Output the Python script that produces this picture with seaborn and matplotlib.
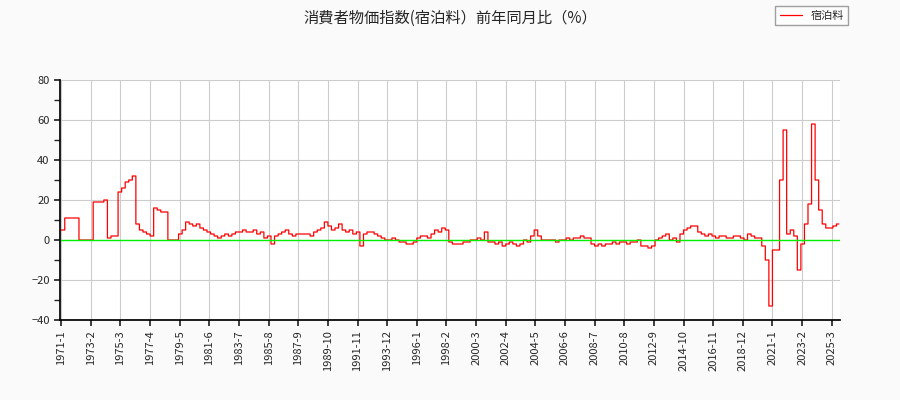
import numpy as np
import pandas as pd
import matplotlib
matplotlib.use("Agg")
import matplotlib.pyplot as plt
import seaborn as sns

# quarterly estimates (each held for 3 months), 1971 Q1 .. 2025 Q3
q1971 = [5, 11, 11, 11]
q1972 = [11, 0, 0, 0]
q1973 = [0, 19, 19, 19]
q1974 = [20, 1, 2, 2]
q1975 = [24, 26, 29, 30]
q1976 = [32, 8, 5, 4]
q1977 = [3, 2, 16, 15]
q1978 = [14, 14, 0, 0]
q1979 = [0, 3, 5, 9]
q1980 = [8, 7, 8, 6]
q1981 = [5, 4, 3, 2]
q1982 = [1, 2, 3, 2]
q1983 = [3, 4, 4, 5]
q1984 = [4, 4, 5, 3]
q1985 = [4, 1, 2, -2]
q1986 = [2, 3, 4, 5]
q1987 = [3, 2, 3, 3]
q1988 = [3, 3, 2, 4]
q1989 = [5, 6, 9, 7]
q1990 = [5, 6, 8, 5]
q1991 = [4, 5, 3, 4]
q1992 = [-3, 3, 4, 4]
q1993 = [3, 2, 1, 0]
q1994 = [0, 1, 0, -1]
q1995 = [-1, -2, -2, -1]
q1996 = [1, 2, 2, 1]
q1997 = [3, 5, 4, 6]
q1998 = [5, -1, -2, -2]
q1999 = [-2, -1, -1, 0]
q2000 = [0, 1, 0, 4]
q2001 = [-1, -1, -2, -1]
q2002 = [-3, -2, -1, -2]
q2003 = [-3, -2, 0, -1]
q2004 = [2, 5, 2, 0]
q2005 = [0, 0, 0, -1]
q2006 = [0, 0, 1, 0]
q2007 = [1, 1, 2, 1]
q2008 = [1, -2, -3, -2]
q2009 = [-3, -2, -2, -1]
q2010 = [-2, -1, -1, -2]
q2011 = [-1, -1, 0, -3]
q2012 = [-3, -4, -3, 0]
q2013 = [1, 2, 3, 0]
q2014 = [1, -1, 3, 5]
q2015 = [6, 7, 7, 4]
q2016 = [3, 2, 3, 2]
q2017 = [1, 2, 2, 1]
q2018 = [1, 2, 2, 1]
q2019 = [0, 3, 2, 1]
q2020 = [1, -3, -10, -33]
q2021 = [-5, -5, 30, 55]
q2022 = [3, 5, 2, -15]
q2023 = [-2, 8, 18, 58]
q2024 = [30, 15, 8, 6]
q2025 = [6, 7, 8]

quarters = (q1971 + q1972 + q1973 + q1974 + q1975 + q1976 + q1977 + q1978 + q1979 +
            q1980 + q1981 + q1982 + q1983 + q1984 + q1985 + q1986 + q1987 + q1988 +
            q1989 + q1990 + q1991 + q1992 + q1993 + q1994 + q1995 + q1996 + q1997 +
            q1998 + q1999 + q2000 + q2001 + q2002 + q2003 + q2004 + q2005 + q2006 +
            q2007 + q2008 + q2009 + q2010 + q2011 + q2012 + q2013 + q2014 + q2015 +
            q2016 + q2017 + q2018 + q2019 + q2020 + q2021 + q2022 + q2023 + q2024 + q2025)
values = np.repeat(quarters, 3)
n = len(values)
labels = [f"{1971 + i // 12}-{i % 12 + 1}" for i in range(n)]
df = pd.DataFrame({"idx": np.arange(n), "val": values})

sns.set_theme(style="white")
plt.rcParams['font.family'] = ['Noto Sans CJK JP', 'DejaVu Sans']

fig = plt.figure(figsize=(9, 4), dpi=100, facecolor="#fafafa")
ax = fig.add_axes([60/900, 80/400, 780/900, 240/400])
ax.set_facecolor("white")
sns.lineplot(data=df, x="idx", y="val", ax=ax, color="red", lw=0.9,
             drawstyle="steps-post", label="宿泊料")
ax.axhline(0, color="#00ee00", lw=1)
ax.set_xlim(-1, n)
ax.set_ylim(-40, 80)
ax.set_yticks(range(-40, 81, 20))
ax.set_yticks(range(-40, 81, 10), minor=True)
ticks = list(range(0, n, 25))
ax.set_xticks(ticks)
ax.set_xticklabels([labels[i] for i in ticks], rotation=90, fontsize=8)
ax.tick_params(axis="y", labelsize=8, which="both", left=True, length=4)
ax.tick_params(axis="x", bottom=True, length=4)
ax.grid(True, color="#cccccc", lw=0.8)
ax.set_xlabel("")
ax.set_ylabel("")
for s in ax.spines.values():
    s.set_visible(False)
ax.spines["left"].set_visible(True)
ax.spines["left"].set_color("black")
ax.spines["bottom"].set_visible(True)
ax.spines["bottom"].set_color("black")
fig.text(0.5, 0.955, "消費者物価指数(宿泊料）前年同月比（%）", ha="center", va="center", fontsize=11)
ax.legend(loc="upper right", bbox_to_anchor=(1.018, 1.33), fontsize=8, frameon=True,
          fancybox=False, edgecolor="#888888", handlelength=2)
fig.savefig("out.png", facecolor=fig.get_facecolor())
